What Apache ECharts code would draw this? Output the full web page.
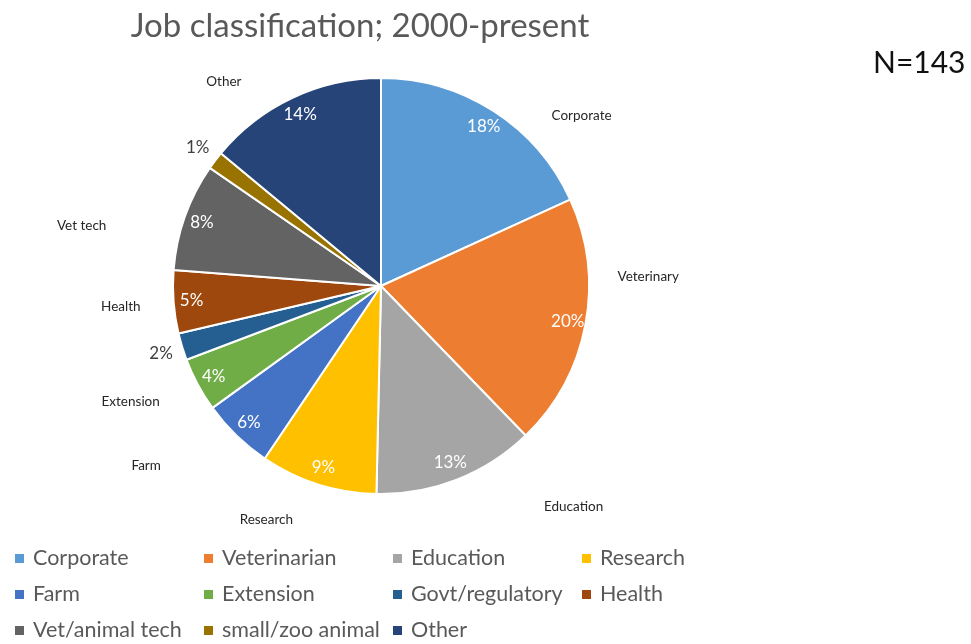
<!DOCTYPE html>
<html>
<head>
<meta charset="utf-8">
<script src="https://cdn.jsdelivr.net/npm/echarts@6/dist/echarts.min.js"></script>
<style>html,body{margin:0;padding:0;background:#fff;}#chart{width:971px;height:644px;}</style>
</head>
<body>
<div id="chart"></div>
<script>
// ---- data ----
const categories = ['Corporate','Veterinarian','Education','Research','Farm','Extension','Govt/regulatory','Health','Vet/animal tech','small/zoo animal','Other'];
const sliceLabels = ['Corporate','Veterinary','Education','Research','Farm','Extension','','Health','Vet tech','','Other'];
const counts = [26, 28, 18, 13, 8, 6, 3, 7, 12, 2, 20];
const titleText = 'Job classification; 2000-present';
const noteText = 'N=143';

// ---- style ----
const colors = ['#5B9BD5','#ED7D31','#A5A5A5','#FFC000','#4472C4','#70AD47','#255E91','#9E480E','#636363','#997300','#264478'];
const FONT = 'Lato, "Open Sans", sans-serif';
const CENTER = [381, 286];
const R = 208;
const smallIdx = [6, 9];               // slices whose percentage sits outside
const nameOffsets = [[53,59],[-1,-60],[93,-34],[-32,-27],[-45,-17],[-10,-14],[0,0],[12,0],[-42,31],[0,0],[-41,43]];

const total = counts.reduce((a,b)=>a+b,0);
const pct = v => Math.round(v / total * 100) + '%';

const mainData = categories.map((c,i)=>({name:c, value:counts[i], itemStyle:{color:colors[i]}}));
const ghost = (labelFn) => categories.map((c,i)=>({name:c, value:counts[i], itemStyle:{color:'rgba(0,0,0,0)'}, label: labelFn(i)}));

const chart = echarts.init(document.getElementById('chart'));
chart.setOption({
  animation: false,
  title: [
    {text: titleText, left: 355, top: 5, textAlign: 'center',
     textStyle:{fontFamily: FONT, fontSize: 33, fontWeight: 'normal', color: '#595959'}},
    {text: noteText, left: 868, top: 43,
     textStyle:{fontFamily: FONT, fontSize: 30, fontWeight: 'normal', color: '#111'}}
  ],
  legend: {
    data: categories,
    left: 13, top: 546, width: 750, padding: 0,
    orient: 'horizontal',
    itemWidth: 11, itemHeight: 11, itemGap: 11,
    icon: 'rect',
    textStyle: {fontFamily: FONT, fontSize: 21.5, color: '#595959', width: 158, lineHeight: 25, padding:[0,0,0,3]}
  },
  series: [
    {
      type: 'pie', center: CENTER, radius: R, startAngle: 90, clockwise: true,
      avoidLabelOverlap: false,
      itemStyle: {borderColor: '#fff', borderWidth: 2},
      label: {show: false}, labelLine: {show: false},
      emphasis: {disabled: true},
      data: mainData
    },
    {
      type: 'pie', center: CENTER, radius: [166, 208], silent: true, avoidLabelOverlap: false,
      labelLine: {show: false}, emphasis: {disabled: true},
      data: ghost(i => ({show: smallIdx.indexOf(i) < 0, position: 'inside',
        formatter: () => pct(counts[i]), fontFamily: FONT, fontSize: 17, color: '#fff'}))
    },
    {
      type: 'pie', center: CENTER, radius: [214, 240], silent: true, avoidLabelOverlap: false,
      labelLine: {show: false}, emphasis: {disabled: true},
      data: ghost(i => ({show: smallIdx.indexOf(i) >= 0, position: 'inside',
        formatter: () => pct(counts[i]), fontFamily: FONT, fontSize: 17, color: '#404040'}))
    },
    {
      type: 'pie', center: CENTER, radius: [250, 290], silent: true, avoidLabelOverlap: false,
      labelLine: {show: false}, emphasis: {disabled: true},
      labelLayout: p => ({dx: nameOffsets[p.dataIndex][0], dy: nameOffsets[p.dataIndex][1]}),
      data: ghost(i => ({show: sliceLabels[i] !== '', position: 'inside',
        formatter: () => sliceLabels[i], fontFamily: FONT, fontSize: 13.5, color: '#262626'}))
    }
  ]
});
</script>
</body>
</html>
